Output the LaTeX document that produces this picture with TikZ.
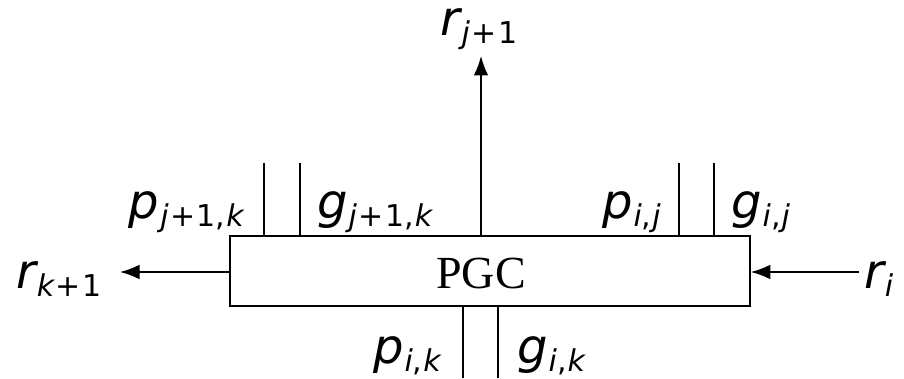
\documentclass[tikz,border=0pt]{standalone}
\usepackage{fontspec}
\usetikzlibrary{arrows.meta}
\newfontfamily\dvs{DejaVu Sans}
\newfontfamily\tms{Liberation Serif}
\newcommand\up[1]{{\upshape #1}}
\newcommand\pl{\kern1.5pt\up{+}\kern1.5pt\up{1}}
\newcommand\cm{\up{,}\kern1pt}
\newcommand\lbl[2]{{\dvs\fontsize{48}{48}\selectfont\itshape #1\kern1pt\raisebox{-8pt}{\fontsize{30}{30}\selectfont #2}}}
\tikzset{
  wire/.style={line width=1.5pt},
  sig/.style={line width=1.5pt,-{Latex[scale=2]}},
  lab/.style={inner sep=0pt},
  pgcbox/.style={draw,line width=1.5pt,minimum width=520pt,minimum height=70pt,inner sep=0pt}
}
\begin{document}
\begin{tikzpicture}
\begin{scope}[x=1pt,y=-1pt]
\useasboundingbox (0,0) rectangle (904,378);
\node[pgcbox] (box) at (490,271) {};
\node[lab,font=\tms\fontsize{46}{46}\selectfont] (pgc) at (481,273) {PGC};
\coordinate (t1) at (264,163); \coordinate (t2) at (300,163);
\coordinate (t3) at (679,163); \coordinate (t4) at (714,163);
\coordinate (b1) at (463,378); \coordinate (b2) at (498,378);
\coordinate (up) at (481,56);
\coordinate (lt) at (120,272);
\coordinate (rt) at (859,272);
\end{scope}
\draw[wire] (t1) -- (t1 |- box.north);
\draw[wire] (t2) -- (t2 |- box.north);
\draw[wire] (t3) -- (t3 |- box.north);
\draw[wire] (t4) -- (t4 |- box.north);
\draw[wire] (b1) -- (b1 |- box.south);
\draw[wire] (b2) -- (b2 |- box.south);
\draw[sig] (up |- box.north) -- (up);
\draw[sig] (box.west |- lt) -- (lt);
\draw[sig] (rt) -- (box.east |- rt);
\begin{scope}[x=1pt,y=-1pt]
\node[lab,anchor=base] (rj1) at (479,36) {\lbl{r}{j\pl}};
\node[lab,anchor=base east] (pj1k) at (244,219) {\lbl{p}{j\pl\cm k}};
\node[lab,anchor=base west] (gj1k) at (317,219) {\lbl{g}{j\pl\cm k}};
\node[lab,anchor=base east] (pij) at (661,219) {\lbl{p}{i\cm j}};
\node[lab,anchor=base west] (gij) at (731,219) {\lbl{g}{i\cm j}};
\node[lab,anchor=base west] (ri) at (864,289) {\lbl{r}{i}};
\node[lab,anchor=base west] (rk1) at (16,289) {\lbl{r}{k\pl}};
\node[lab,anchor=base east] (pik) at (441,363) {\lbl{p}{i\cm k}};
\node[lab,anchor=base west] (gik) at (517,363) {\lbl{g}{i\cm k}};
\end{scope}
\end{tikzpicture}
\end{document}
